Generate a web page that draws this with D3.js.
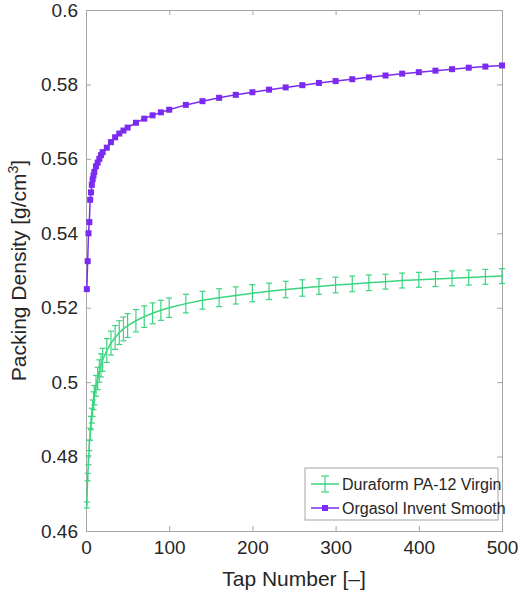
<!DOCTYPE html>
<html>
<head>
<meta charset="utf-8">
<script src="https://cdn.jsdelivr.net/npm/d3@7"></script>
<style>
  body { margin: 0; background: #fff; }
  text { font-family: "Liberation Sans", Arial, sans-serif; fill: #262626; }
</style>
</head>
<body>
<svg id="chart" width="520" height="597"></svg>
<script>
// tap numbers where values were read
var taps = [1,2,3,4,5,6,7,8,9,10,12,14,16,18,20,25,30,35,40,45,50,60,70,80,90,100,120,140,160,180,200,220,240,260,280,300,320,340,360,380,400,420,440,460,480,500];
var orgasol = [0.525,0.5325,0.540,0.543,0.549,0.551,0.553,0.5545,0.5555,0.5565,0.558,0.559,0.560,0.561,0.5618,0.563,0.5645,0.5658,0.5668,0.5676,0.5684,0.5697,0.5708,0.5717,0.5725,0.5732,0.5745,0.5755,0.5764,0.5772,0.5779,0.5786,0.5792,0.5798,0.5804,0.5809,0.5814,0.5819,0.5824,0.5829,0.5833,0.5837,0.5841,0.5845,0.5848,0.5851];
var duraform = [0.467,0.4745,0.479,0.483,0.486,0.489,0.491,0.493,0.495,0.4965,0.499,0.501,0.503,0.5045,0.506,0.5085,0.5105,0.512,0.5133,0.5143,0.5152,0.5165,0.5176,0.5185,0.5193,0.5200,0.5211,0.5220,0.5227,0.5233,0.5239,0.5244,0.5249,0.5253,0.5257,0.5261,0.5264,0.5267,0.5270,0.5273,0.5275,0.5277,0.5279,0.5281,0.5283,0.5285];
var duraformErr = [0.0008,0.001,0.0012,0.0014,0.0016,0.0018,0.002,0.0022,0.0024,0.0026,0.0028,0.003,0.003,0.0031,0.0031,0.0032,0.0032,0.0032,0.0032,0.0032,0.0032,0.003,0.0029,0.0028,0.0027,0.0026,0.0025,0.0024,0.0024,0.0023,0.0023,0.0022,0.0022,0.0022,0.0021,0.0021,0.0021,0.0021,0.002,0.002,0.002,0.002,0.002,0.002,0.002,0.002];
var xTicks = [0,100,200,300,400,500];
var yTicks = [0.46,0.48,0.5,0.52,0.54,0.56,0.58,0.6];

var svg = d3.select("#chart");
var mLeft = 86, mRight = 502, mTop = 10, mBottom = 531;
var x = d3.scaleLinear().domain([0, 500]).range([mLeft, mRight]);
var y = d3.scaleLinear().domain([0.46, 0.6]).range([mBottom, mTop]);
var green = "#3bd47f", purple = "#7b2bf0";

// axes with inward ticks
svg.append("g").attr("transform", "translate(0," + mBottom + ")")
  .call(d3.axisBottom(x).tickValues(xTicks).tickSize(-5).tickPadding(10).tickFormat(d3.format("d")))
  .call(g => g.selectAll("text").style("font-size", "19px"));
svg.append("g").attr("transform", "translate(" + mLeft + ",0)")
  .call(d3.axisLeft(y).tickValues(yTicks).tickSize(-5).tickPadding(8).tickFormat(d => String(+d.toFixed(2))))
  .call(g => g.selectAll("text").style("font-size", "19px"));
svg.append("g").attr("transform", "translate(0," + mTop + ")")
  .call(d3.axisTop(x).tickValues(xTicks).tickSize(-5).tickFormat(""));
svg.append("g").attr("transform", "translate(" + mRight + ",0)")
  .call(d3.axisRight(y).tickValues(yTicks).tickSize(-5).tickFormat(""));
svg.selectAll(".domain, .tick line").attr("stroke", "#a6a6a6");

// duraform error bars
var gErr = svg.append("g").attr("stroke", green).attr("stroke-width", 1.2);
taps.forEach(function (t, i) {
  var xx = x(t), y0 = y(duraform[i] - duraformErr[i]), y1 = y(duraform[i] + duraformErr[i]);
  gErr.append("line").attr("x1", xx).attr("x2", xx).attr("y1", y0).attr("y2", y1);
  gErr.append("line").attr("x1", xx - 3).attr("x2", xx + 3).attr("y1", y0).attr("y2", y0);
  gErr.append("line").attr("x1", xx - 3).attr("x2", xx + 3).attr("y1", y1).attr("y2", y1);
});
var line = d3.line().x((d, i) => x(taps[i])).y(d => y(d));
svg.append("path").datum(duraform).attr("d", line).attr("fill", "none").attr("stroke", green).attr("stroke-width", 1.5);

// orgasol line + square markers
svg.append("path").datum(orgasol).attr("d", line).attr("fill", "none").attr("stroke", purple).attr("stroke-width", 1.5);
svg.append("g").selectAll("rect").data(orgasol).join("rect")
  .attr("x", (d, i) => x(taps[i]) - 3).attr("y", d => y(d) - 3)
  .attr("width", 6).attr("height", 6).attr("fill", purple);

// legend
var lg = svg.append("g");
lg.append("rect").attr("x", 305).attr("y", 468).attr("width", 193).attr("height", 52)
  .attr("fill", "#fff").attr("stroke", "#a6a6a6");
lg.append("line").attr("x1", 311).attr("x2", 339).attr("y1", 484).attr("y2", 484).attr("stroke", green).attr("stroke-width", 1.5);
lg.append("line").attr("x1", 325).attr("x2", 325).attr("y1", 476).attr("y2", 492).attr("stroke", green).attr("stroke-width", 1.2);
lg.append("line").attr("x1", 321).attr("x2", 329).attr("y1", 476).attr("y2", 476).attr("stroke", green).attr("stroke-width", 1.2);
lg.append("line").attr("x1", 321).attr("x2", 329).attr("y1", 492).attr("y2", 492).attr("stroke", green).attr("stroke-width", 1.2);
lg.append("text").attr("x", 342).attr("y", 490).style("font-size", "16px").text("Duraform PA-12 Virgin");
lg.append("line").attr("x1", 311).attr("x2", 339).attr("y1", 508).attr("y2", 508).attr("stroke", purple).attr("stroke-width", 1.5);
lg.append("rect").attr("x", 322).attr("y", 505).attr("width", 6).attr("height", 6).attr("fill", purple);
lg.append("text").attr("x", 342).attr("y", 514).style("font-size", "16px").text("Orgasol Invent Smooth");

// axis labels
svg.append("text").attr("x", (mLeft + mRight) / 2).attr("y", 586).attr("text-anchor", "middle")
  .style("font-size", "21px").text("Tap Number [\u2013]");
var yl = svg.append("text").attr("transform", "translate(26," + (mTop + mBottom) / 2 + ") rotate(-90)")
  .attr("text-anchor", "middle").style("font-size", "21px");
yl.append("tspan").text("Packing Density [g/cm");
yl.append("tspan").attr("dy", -8).style("font-size", "14px").text("3");
yl.append("tspan").attr("dy", 8).text("]");
</script>
</body>
</html>
